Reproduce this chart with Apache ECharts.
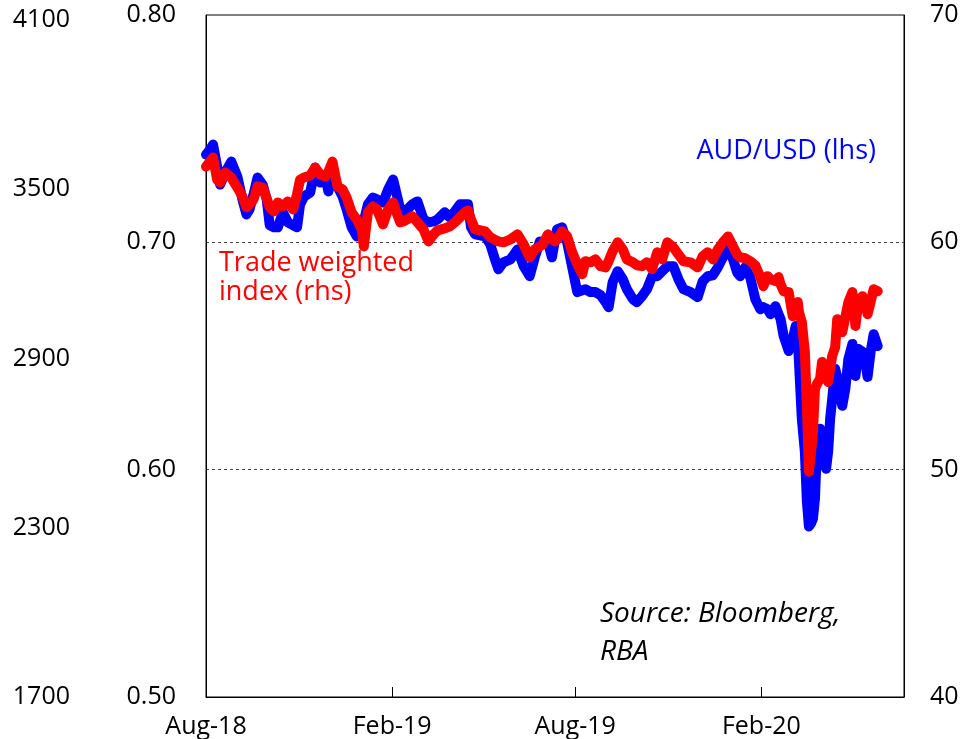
<!DOCTYPE html>
<html>
<head>
    <meta charset="utf-8">
    <title>AUD/USD and Trade weighted index</title>
    <script src="https://cdn.jsdelivr.net/npm/echarts@6.0.0/dist/echarts.min.js"></script>
    <style>
        html, body { margin: 0; padding: 0; background: #fff; }
        #chart { width: 969px; height: 739px; }
    </style>
</head>
<body>
    <div id="chart"></div>
    <script>
        // roughly every 5 days (denser around the March 2020 drop)
        const dates = [
            '2018-08-01','2018-08-05','2018-08-08','2018-08-12','2018-08-15','2018-08-20','2018-08-26','2018-09-01',
            '2018-09-06','2018-09-10','2018-09-13','2018-09-17','2018-09-21','2018-09-26','2018-09-30','2018-10-03',
            '2018-10-07','2018-10-11','2018-10-16','2018-10-21','2018-10-26','2018-10-30','2018-11-02','2018-11-06',
            '2018-11-12','2018-11-17','2018-11-22','2018-11-27','2018-11-30','2018-12-04','2018-12-09','2018-12-14',
            '2018-12-18','2018-12-23','2018-12-28','2019-01-02','2019-01-04','2019-01-08','2019-01-13','2019-01-17',
            '2019-01-23','2019-01-28','2019-02-02','2019-02-06','2019-02-09','2019-02-12','2019-02-16','2019-02-21',
            '2019-02-26','2019-03-04','2019-03-09','2019-03-14','2019-03-18','2019-03-25','2019-03-30','2019-04-04',
            '2019-04-09','2019-04-14','2019-04-17','2019-04-20','2019-04-24','2019-04-29','2019-05-04','2019-05-09',
            '2019-05-13','2019-05-17','2019-05-22','2019-05-29','2019-06-05','2019-06-11','2019-06-14','2019-06-17',
            '2019-06-22','2019-06-27','2019-06-30','2019-07-05','2019-07-09','2019-07-12','2019-07-14','2019-07-19',
            '2019-07-24','2019-07-29','2019-08-03','2019-08-08','2019-08-11','2019-08-16','2019-08-21','2019-08-26',
            '2019-08-31','2019-09-03','2019-09-07','2019-09-12','2019-09-17','2019-09-21','2019-09-27','2019-10-01',
            '2019-10-06','2019-10-11','2019-10-16','2019-10-21','2019-10-26','2019-10-31','2019-11-06','2019-11-11',
            '2019-11-16','2019-11-23','2019-11-30','2019-12-05','2019-12-10','2019-12-15','2019-12-20','2019-12-25',
            '2019-12-30','2020-01-04','2020-01-08','2020-01-11','2020-01-16','2020-01-21','2020-01-26','2020-01-31',
            '2020-02-03','2020-02-07','2020-02-10','2020-02-15','2020-02-18','2020-02-20','2020-02-23','2020-02-28',
            '2020-03-01','2020-03-03','2020-03-06','2020-03-08','2020-03-09','2020-03-12','2020-03-15','2020-03-17',
            '2020-03-19','2020-03-21','2020-03-23','2020-03-25','2020-03-27','2020-03-30','2020-04-01','2020-04-05',
            '2020-04-07','2020-04-09','2020-04-11','2020-04-14','2020-04-16','2020-04-19','2020-04-21','2020-04-24',
            '2020-04-27','2020-05-01','2020-05-04','2020-05-07','2020-05-11','2020-05-14','2020-05-16','2020-05-19',
            '2020-05-22','2020-05-26'
        ];

        // AUD/USD, lhs
        const audusd = [
            0.7386,0.7408,0.7430,0.7333,0.7254,0.7307,0.7355,0.7289,
            0.7189,0.7123,0.7145,0.7211,0.7285,0.7254,0.7189,0.7075,
            0.7066,0.7066,0.7132,0.7088,0.7075,0.7066,0.7167,0.7202,
            0.7219,0.7329,0.7263,0.7289,0.7224,0.7307,0.7246,0.7202,
            0.7145,0.7066,0.7026,0.7057,0.7092,0.7167,0.7197,0.7189,
            0.7175,0.7232,0.7276,0.7202,0.7145,0.7114,0.7145,0.7167,
            0.7180,0.7101,0.7088,0.7092,0.7101,0.7132,0.7110,0.7136,
            0.7167,0.7167,0.7167,0.7066,0.7035,0.7031,0.7026,0.6991,
            0.6934,0.6882,0.6912,0.6925,0.6969,0.6895,0.6873,0.6851,
            0.6934,0.7004,0.7000,0.7000,0.6934,0.7013,0.7057,0.7066,
            0.7000,0.6890,0.6781,0.6789,0.6794,0.6781,0.6781,0.6768,
            0.6737,0.6715,0.6825,0.6873,0.6838,0.6794,0.6750,0.6737,
            0.6763,0.6794,0.6851,0.6851,0.6873,0.6895,0.6895,0.6838,
            0.6794,0.6781,0.6759,0.6829,0.6851,0.6855,0.6890,0.6934,
            0.6974,0.6925,0.6868,0.6851,0.6890,0.6846,0.6750,0.6706,
            0.6715,0.6706,0.6684,0.6719,0.6684,0.6662,0.6588,0.6522,
            0.6553,0.6575,0.6632,0.6596,0.6487,0.6224,0.6079,0.5860,
            0.5750,0.5763,0.5785,0.5873,0.6105,0.6180,0.6136,0.6004,
            0.6079,0.6224,0.6311,0.6443,0.6408,0.6333,0.6281,0.6355,
            0.6487,0.6553,0.6412,0.6531,0.6518,0.6465,0.6408,0.6518,
            0.6596,0.6544
        ];

        // Trade weighted index, rhs
        const twi = [
            63.33,63.55,63.73,62.76,62.63,63.07,62.85,62.41,
            62.02,61.54,61.67,61.89,62.46,62.41,61.93,61.54,
            61.36,61.75,61.58,61.80,61.45,62.11,62.76,62.85,
            62.94,63.29,62.98,62.89,63.11,63.55,62.46,62.32,
            61.97,61.32,61.01,60.57,59.82,61.32,61.58,61.45,
            60.79,61.45,61.75,61.23,60.88,60.92,61.01,61.14,
            60.88,60.57,60.04,60.35,60.53,60.61,60.70,60.88,
            61.10,61.32,61.40,61.01,60.57,60.53,60.48,60.22,
            60.13,60.04,60.00,60.13,60.35,59.91,59.61,59.34,
            59.69,59.82,59.91,60.35,60.13,60.04,60.13,60.48,
            60.26,59.56,59.04,58.60,59.17,59.12,59.25,58.95,
            58.90,59.17,59.61,60.00,59.69,59.25,59.12,58.99,
            58.95,59.12,58.82,59.56,59.25,60.00,59.78,59.47,
            59.17,59.12,58.90,59.39,59.56,59.25,59.69,60.00,
            60.26,59.82,59.47,59.34,59.30,59.17,58.99,58.47,
            58.07,58.51,58.38,58.29,58.47,58.16,57.85,57.81,
            57.28,56.75,57.06,57.37,56.97,56.49,55.18,52.81,
            49.91,50.70,51.67,53.55,53.77,53.99,54.74,54.12,
            53.86,54.43,55.00,55.39,56.62,56.18,56.05,56.71,
            57.37,57.81,56.32,57.41,57.63,57.28,56.84,57.37,
            57.94,57.85
        ];

        const xTickDates = ['2018-08-01', '2019-02-01', '2019-08-01', '2020-02-01'];
        const xTickLabels = ['Aug-18', 'Feb-19', 'Aug-19', 'Feb-20'];

        const FONT = "'Open Sans', 'DejaVu Sans', sans-serif";
        const FS = 25;

        const ts = d => +echarts.time.parse(d);
        const xTickValues = xTickDates.map(ts);
        const xs = dates.map(ts);

        const chart = echarts.init(document.getElementById('chart'), null, { renderer: 'canvas' });

        chart.setOption({
            animation: false,
            backgroundColor: '#fff',
            textStyle: { fontFamily: FONT },
            grid: {
                left: 206, right: 65, top: 15, bottom: 40,
                show: true, borderColor: '#000', borderWidth: 1
            },
            xAxis: {
                type: 'value',
                min: ts('2018-08-01'),
                max: ts('2020-06-21'),
                axisLine: { show: true, lineStyle: { color: '#000', width: 1 } },
                axisTick: {
                    show: true, inside: true, length: 10,
                    customValues: xTickValues,
                    lineStyle: { color: '#000' }
                },
                axisLabel: {
                    customValues: xTickValues,
                    margin: 17,
                    color: '#000',
                    fontSize: FS,
                    fontFamily: FONT,
                    formatter: v => {
                        const i = xTickValues.indexOf(v);
                        return i >= 0 ? xTickLabels[i] : '';
                    }
                },
                splitLine: { show: false }
            },
            yAxis: [
                {
                    // AUD/USD
                    type: 'value', position: 'left',
                    min: 0.5, max: 0.8, interval: 0.1,
                    axisLine: { show: true, lineStyle: { color: '#000' } },
                    axisTick: { show: false },
                    axisLabel: {
                        margin: 30, color: '#000', fontSize: FS, fontFamily: FONT,
                        formatter: v => v.toFixed(2)
                    },
                    splitLine: {
                        show: true, showMinLine: false, showMaxLine: false,
                        lineStyle: { color: '#444', type: [3, 3], width: 1 }
                    }
                },
                {
                    // trade weighted index
                    type: 'value', position: 'right',
                    min: 40, max: 70, interval: 10,
                    axisLine: { show: true, lineStyle: { color: '#000' } },
                    axisTick: { show: false },
                    axisLabel: { margin: 26, color: '#000', fontSize: FS, fontFamily: FONT },
                    splitLine: { show: false }
                },
                {
                    // outer left scale, no series on it
                    type: 'value', position: 'left', offset: 128,
                    min: 1700, max: 4118, interval: 600,
                    axisLine: { show: false },
                    axisTick: { show: false },
                    axisLabel: {
                        margin: 8, color: '#000', fontSize: FS, fontFamily: FONT, showMaxLabel: false,
                        formatter: v => String(v)
                    },
                    splitLine: { show: false }
                }
            ],
            series: [
                {
                    name: 'AUD/USD (lhs)',
                    type: 'line',
                    yAxisIndex: 0,
                    data: xs.map((x, i) => [x, audusd[i]]),
                    showSymbol: false,
                    symbol: 'none',
                    lineStyle: { color: '#0000ff', width: 10, cap: 'round', join: 'round' },
                    z: 3
                },
                {
                    name: 'Trade weighted index (rhs)',
                    type: 'line',
                    yAxisIndex: 1,
                    data: xs.map((x, i) => [x, twi[i]]),
                    showSymbol: false,
                    symbol: 'none',
                    lineStyle: { color: '#ff0000', width: 10, cap: 'round', join: 'round' },
                    z: 4
                }
            ],
            graphic: [
                {
                    type: 'text', x: 876, y: 151,
                    style: { text: 'AUD/USD (lhs)', fill: '#0000ff', font: '27px ' + FONT, align: 'right', verticalAlign: 'middle' }
                },
                {
                    type: 'text', x: 219, y: 263,
                    style: { text: 'Trade weighted', fill: '#ff0000', font: '27px ' + FONT, align: 'left', verticalAlign: 'middle' }
                },
                {
                    type: 'text', x: 219, y: 292,
                    style: { text: 'index (rhs)', fill: '#ff0000', font: '27px ' + FONT, align: 'left', verticalAlign: 'middle' }
                },
                {
                    type: 'text', x: 600, y: 614,
                    style: { text: 'Source: Bloomberg,', fill: '#000', font: 'italic 28px ' + FONT, align: 'left', verticalAlign: 'middle' }
                },
                {
                    type: 'text', x: 600, y: 652,
                    style: { text: 'RBA', fill: '#000', font: 'italic 28px ' + FONT, align: 'left', verticalAlign: 'middle' }
                }
            ]
        });
    </script>
</body>
</html>
